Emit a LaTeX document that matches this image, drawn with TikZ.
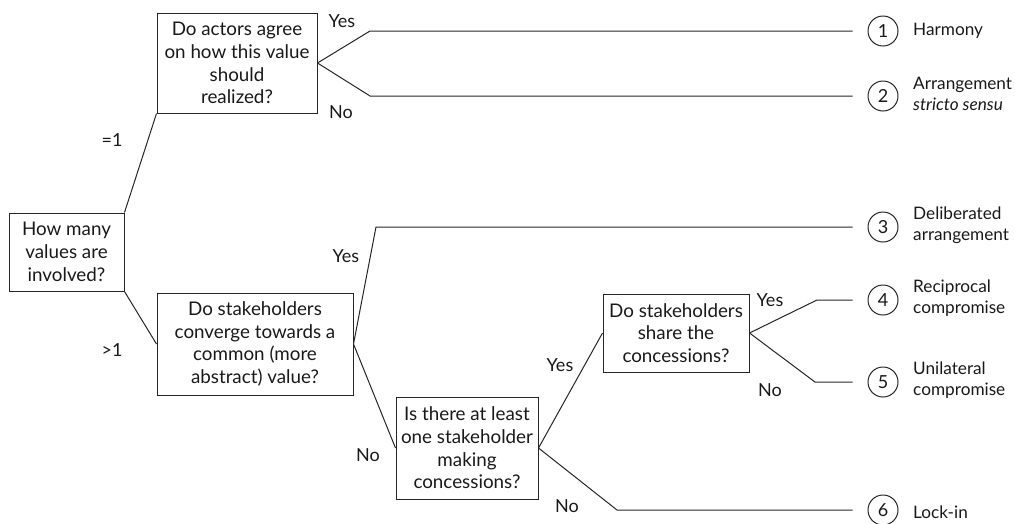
\documentclass[tikz,border=0pt]{standalone}
\usepackage{fontspec}
\setmainfont{Lato}
\begin{document}
\begin{tikzpicture}[x=1pt,y=-1pt]
        \tikzstyle{question}=[rectangle,draw=black!85,line width=1pt,align=center,inner sep=2pt,text=black!90,font=\fontsize{18.8}{22.7}\selectfont]
        \tikzstyle{outcome}=[circle,draw=black!85,line width=1pt,minimum size=30pt,inner sep=0pt,text=black!90,font=\fontsize{18}{20}\selectfont]
        \tikzstyle{result}=[anchor=west,align=left,inner sep=0pt,text=black!90,font=\fontsize{17.2}{20.5}\selectfont]
        \tikzstyle{answer}=[inner sep=0pt,text=black!90,font=\fontsize{18}{20}\selectfont]
        \tikzstyle{edge}=[draw=black!85,line width=1pt]
        \tikzstyle{leaf}=[shorten >=15pt]

        \useasboundingbox (0,0) rectangle (1015,523);

        % questions
        \node [question,minimum width=160pt,minimum height=100pt] (agree) at (237,63) {Do actors agree\\on how this value\\should\\realized?};
        \node [question,minimum width=115pt,minimum height=78pt] (many) at (66.5,252) {How many\\values are\\involved?};
        \node [question,minimum width=196pt,minimum height=102pt] (converge) at (255,344) {Do stakeholders\\converge towards a\\common (more\\abstract) value?};
        \node [question,minimum width=142pt,minimum height=102pt] (concede) at (467,448) {Is there at least\\one stakeholder\\making\\concessions?};
        \node [question,minimum width=146pt,minimum height=78pt] (share) at (676,333) {Do stakeholders\\share the\\concessions?};

        % outcomes
        \node [outcome] (o1) at (883,31) {1};
        \node [outcome] (o2) at (883,96) {2};
        \node [outcome] (o3) at (883,227) {3};
        \node [outcome] (o4) at (883,300) {4};
        \node [outcome] (o5) at (883,382) {5};
        \node [outcome] (o6) at (883,510) {6};

        \node [result] (r1) at (913,31) {Harmony};
        \node [result] (r2) at (913,94) {Arrangement\\\textit{stricto sensu}};
        \node [result] (r3) at (913,225) {Deliberated\\arrangement};
        \node [result] (r4) at (913,298) {Reciprocal\\compromise};
        \node [result] (r5) at (913,380) {Unilateral\\compromise};
        \node [result] (r6) at (913,512) {Lock-in};

        % knees
        \coordinate (k1) at (370,31);
        \coordinate (k2) at (370,96);
        \coordinate (k3) at (376,227);
        \coordinate (k4) at (817,300);
        \coordinate (k5) at (815,382);
        \coordinate (k6) at (617,510);

        % branches
        \path[edge] (many.north east) edge (agree.south west);
        \path[edge] (many.south east) edge (converge.west);
        \draw[edge,leaf] (agree.east) -- (k1) -- (o1);
        \draw[edge,leaf] (agree.east) -- (k2) -- (o2);
        \draw[edge,leaf] (converge.east) -- (k3) -- (o3);
        \path[edge] (converge.east) edge (concede.west);
        \path[edge] (concede.east) edge (share.west);
        \draw[edge,leaf] (concede.east) -- (k6) -- (o6);
        \draw[edge,leaf] (share.east) -- (k4) -- (o4);
        \draw[edge,leaf] (share.east) -- (k5) -- (o5);

        % answers
        \node [answer] (eq1) at (112,140) {=1};
        \node [answer] (gt1) at (112,350) {>1};
        \node [answer] (yesA) at (342,21) {Yes};
        \node [answer] (noA) at (341,112) {No};
        \node [answer] (yesC) at (346,256) {Yes};
        \node [answer] (noC) at (368,455) {No};
        \node [answer] (yesD) at (560,365) {Yes};
        \node [answer] (noD) at (567,506) {No};
        \node [answer] (yesE) at (770,300) {Yes};
        \node [answer] (noE) at (770,390) {No};
\end{tikzpicture}
\end{document}
